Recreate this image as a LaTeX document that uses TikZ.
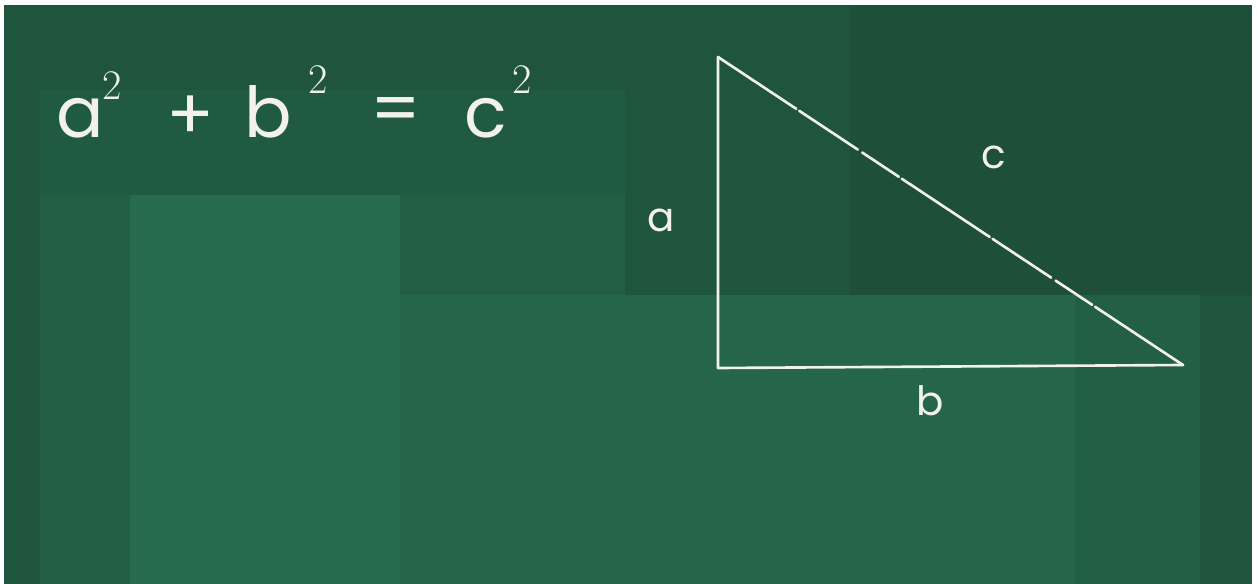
\documentclass[tikz,border=0pt]{standalone}
\usepackage{fontspec}
\newfontfamily\chalkfont{Poppins}
\usetikzlibrary{positioning}
\definecolor{boardbase}{HTML}{235F45}
\definecolor{boarddark}{HTML}{1F553D}
\definecolor{boarddeep}{HTML}{1D4F39}
\definecolor{boardmid}{HTML}{215A42}
\definecolor{boardlight}{HTML}{266B4E}
\definecolor{boardsoft}{HTML}{25664A}
\definecolor{chalk}{HTML}{F2F2EA}
\tikzset{
  chalkline/.style={draw=chalk,line width=1.5pt,line cap=round,line join=round},
  chalkgap/.style={chalkline,dash pattern=on 60pt off 2pt on 25pt off 3pt on 40pt off 2pt},
  chalkbig/.style={text=chalk,font=\chalkfont\fontsize{40}{48}\selectfont,inner sep=0pt},
  chalksup/.style={text=chalk,font=\fontsize{24}{28}\selectfont,inner sep=0pt},
  chalklabel/.style={text=chalk,font=\chalkfont\fontsize{23}{28}\selectfont,inner sep=0pt}
}
\begin{document}
\begin{tikzpicture}[x=0.02cm,y=-0.02cm]
  % page and board
  \fill[white] (0,0) rectangle (1258,584);
  \useasboundingbox (0,0) rectangle (1258,584);
  \fill[boardbase] (4,5) rectangle (1252,584);
  \fill[boarddark] (4,5) rectangle (625,90);
  \fill[boardmid] (40,90) rectangle (625,195);
  \fill[boarddark] (625,5) rectangle (1252,295);
  \fill[boarddeep] (850,5) rectangle (1252,295);
  \fill[boardlight] (130,195) rectangle (400,584);
  \fill[boardsoft] (400,295) rectangle (625,584);
  \fill[boardsoft] (625,295) rectangle (1075,584);
  \fill[boardbase] (1075,295) rectangle (1252,584);
  \fill[boarddark] (1200,295) rectangle (1252,584);
  \fill[boarddark] (4,5) rectangle (40,584);

  % formula
  \node[chalkbig] (ta) at (80,118) {a};
  \node[chalksup] (ta2) at (112,86) {2};
  \node[chalkbig] (plus) at (190,118) {+};
  \node[chalkbig] (tb) at (268,112) {b};
  \node[chalksup] (tb2) at (318,80) {2};
  \node[chalkbig] (eq) at (396,116) {=};
  \node[chalkbig] (tc) at (486,118) {c};
  \node[chalksup] (tc2) at (522,80) {2};

  % triangle
  \coordinate (top) at (718,57);
  \coordinate (corner) at (718,368);
  \coordinate (tip) at (1183,365);
  \draw[chalkline] (top) -- (corner) -- (tip);
  \draw[chalkgap] (tip) -- (top);

  \node[chalklabel] (la) at (661,220) {a};
  \node[chalklabel] (lc) at (994,157) {c};
  \node[chalklabel] (lb) at (930,401) {b};
\end{tikzpicture}
\end{document}
